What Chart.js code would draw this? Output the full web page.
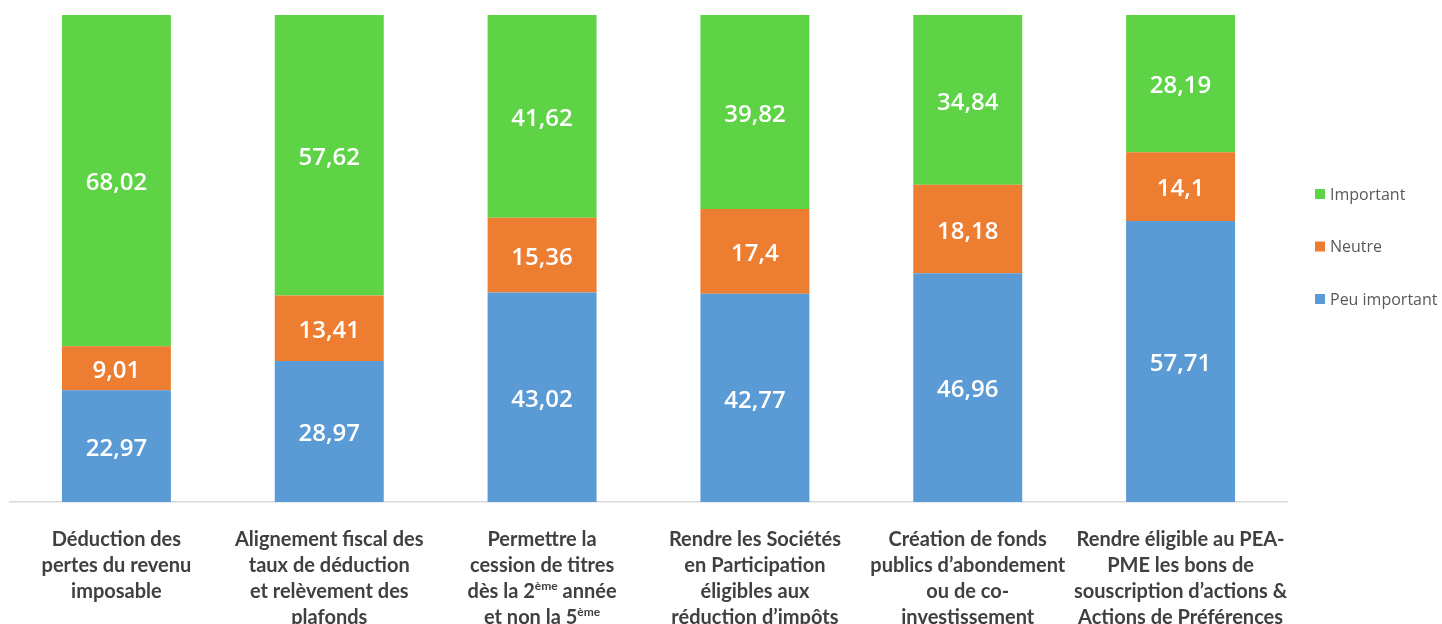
<!DOCTYPE html>
<html>
<head>
<meta charset="utf-8">
<script src="https://cdn.jsdelivr.net/npm/chart.js@4.4.1/dist/chart.umd.min.js"></script>
<style>
  html, body { margin: 0; padding: 0; background: #fff; }
  #wrap { width: 1442px; height: 624px; }
</style>
</head>
<body>
<div id="wrap"><canvas id="grafico"></canvas></div>
<script>
// categories, one array of lines each; ^ marks a superscript part
const categorias = [
    ['Déduction des', 'pertes du revenu', 'imposable'],
    ['Alignement fiscal des', 'taux de déduction', 'et relèvement des', 'plafonds'],
    ['Permettre la', 'cession de titres', 'dès la 2^ème^ année', 'et non la 5^ème'],
    ['Rendre les Sociétés', 'en Participation', 'éligibles aux', 'réduction d’impôts'],
    ['Création de fonds', 'publics d’abondement', 'ou de co-', 'investissement'],
    ['Rendre éligible au PEA-', 'PME les bons de', 'souscription d’actions &', 'Actions de Préférences']
];

const peuImportant = [22.97, 28.97, 43.02, 42.77, 46.96, 57.71];
const neutre = [9.01, 13.41, 15.36, 17.4, 18.18, 14.1];
const important = [68.02, 57.62, 41.62, 39.82, 34.84, 28.19];

const nomesSeries = ['Peu important', 'Neutre', 'Important'];
const cores = ['#5B9BD5', '#ED7D31', '#5DD345'];

const fmt = v => String(v).replace('.', ',');

const ctx = document.getElementById('grafico');

new Chart(ctx, {
    type: 'bar',
    data: {
        labels: categorias,
        datasets: [
            { label: nomesSeries[0], data: peuImportant, backgroundColor: cores[0] },
            { label: nomesSeries[1], data: neutre, backgroundColor: cores[1] },
            { label: nomesSeries[2], data: important, backgroundColor: cores[2] }
        ]
    },
    options: {
        responsive: true,
        maintainAspectRatio: false,
        animation: false,
        categoryPercentage: 1,
        barPercentage: 0.512,
        layout: {
            padding: { left: 10, top: 15, right: 155, bottom: 114 }
        },
        plugins: {
            legend: { display: false },
            tooltip: { enabled: false }
        },
        scales: {
            x: {
                stacked: true,
                grid: { display: false },
                ticks: { display: false },
                border: { color: '#D9D9D9', width: 1.5 }
            },
            y: {
                stacked: true,
                display: false,
                min: 0,
                max: 100
            }
        }
    },
    plugins: [{
        id: 'rotulosValores',
        afterDatasetsDraw(chart) {
            const { ctx } = chart;
            ctx.save();
            ctx.fillStyle = '#FFFFFF';
            ctx.font = '600 24px "Open Sans"';
            ctx.textAlign = 'center';
            ctx.textBaseline = 'middle';
            chart.data.datasets.forEach((ds, i) => {
                chart.getDatasetMeta(i).data.forEach((bar, j) => {
                    const y = (bar.y + bar.base) / 2 + 3;
                    ctx.fillText(fmt(ds.data[j]), bar.x, y);
                });
            });
            ctx.restore();
        }
    }, {
        id: 'rotulosCategorias',
        afterDraw(chart) {
            const { ctx, scales, chartArea } = chart;
            const fonte = 'bold 20px Lato';
            const fonteSup = 'bold 12px Lato';
            ctx.save();
            ctx.fillStyle = '#404040';
            ctx.textBaseline = 'middle';
            ctx.textAlign = 'left';
            chart.data.labels.forEach((linhas, i) => {
                const x = scales.x.getPixelForTick(i);
                linhas.forEach((linha, k) => {
                    const y = chartArea.bottom + 38 + k * 26;
                    const partes = linha.split('^');
                    let largura = 0;
                    partes.forEach((p, n) => {
                        ctx.font = n % 2 ? fonteSup : fonte;
                        largura += ctx.measureText(p).width;
                    });
                    let cx = x - largura / 2;
                    partes.forEach((p, n) => {
                        const sup = n % 2 === 1;
                        ctx.font = sup ? fonteSup : fonte;
                        ctx.fillText(p, cx, sup ? y - 6 : y);
                        cx += ctx.measureText(p).width;
                    });
                });
            });
            ctx.restore();
        }
    }, {
        id: 'legendaDireita',
        afterDraw(chart) {
            const { ctx, chartArea } = chart;
            const n = chart.data.datasets.length;
            ctx.save();
            ctx.font = '16px "Open Sans"';
            ctx.textBaseline = 'middle';
            ctx.textAlign = 'left';
            for (let k = 0; k < n; k++) {
                const ds = chart.data.datasets[n - 1 - k];
                const y = 194 + k * 52.5;
                const x = chartArea.right + 28;
                ctx.fillStyle = ds.backgroundColor;
                ctx.fillRect(x, y - 5, 10, 10);
                ctx.fillStyle = '#595959';
                ctx.fillText(ds.label, x + 15, y + 1);
            }
            ctx.restore();
        }
    }]
});
</script>
</body>
</html>
